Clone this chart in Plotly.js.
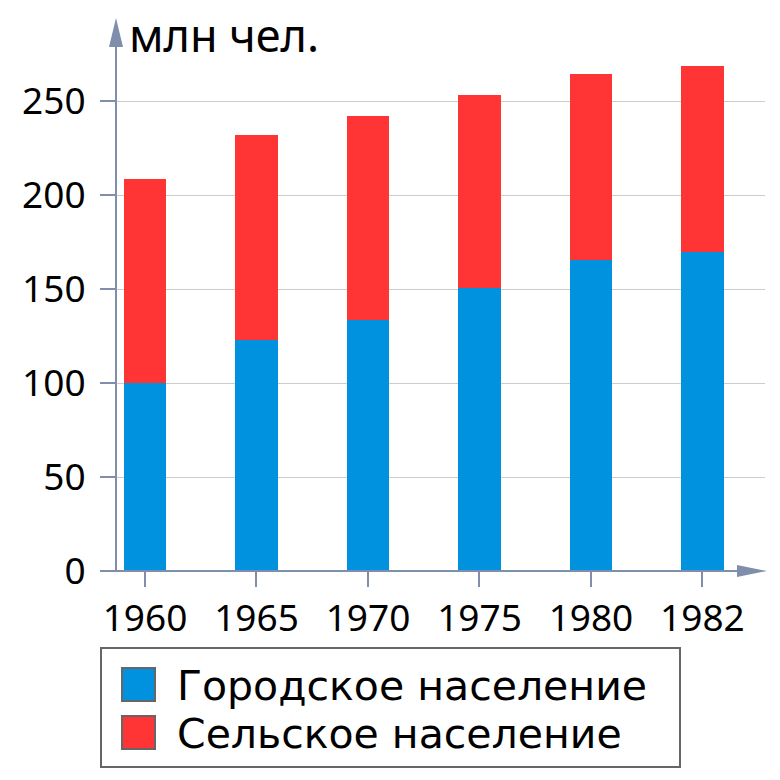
<!DOCTYPE html>
<html><head><meta charset="utf-8">
<script src="https://cdn.plot.ly/plotly-3.0.1.min.js"></script>
<style>body{margin:0;background:#fff}#c{width:780px;height:780px}</style>
</head><body><div id="c"></div>
<script>
const years = ['1960','1965','1970','1975','1980','1982'];
const urban = [100, 123, 133.5, 150.5, 165.4, 169.7];
const rural = [108.7, 109, 108.5, 102.7, 99, 98.9];
const seriesNames = ['Городское население', 'Сельское население'];
const yTicks = [0, 50, 100, 150, 200, 250];
const unitLabel = 'млн чел.';

const W = 780, H = 780;
const L = 117, R = 15, T = 40, B = 209;
const pw = W - L - R, ph = H - T - B;
const px = x => (x - L) / pw;
const py = y => (H - B - y) / ph;
const axisColor = '#7f8fab';
const blue = '#0091df', red = '#ff3535';
const font = 'Noto Sans, sans-serif';
const legFont = 'DejaVu Sans, sans-serif';

const traces = [
  {type:'bar', x: years, y: urban, name: seriesNames[0], marker:{color: blue}, width: 0.38, hoverinfo:'skip'},
  {type:'bar', x: years, y: rural, name: seriesNames[1], marker:{color: red}, width: 0.38, hoverinfo:'skip'}
];

const shapes = [
  {type:'line', xref:'paper', yref:'paper', x0:px(116), x1:px(116), y0:py(572), y1:py(40), line:{color:axisColor, width:2}},
  {type:'path', xref:'paper', yref:'paper', path:`M${px(116)},${py(18)} L${px(109)},${py(47)} L${px(123)},${py(47)} Z`, fillcolor:axisColor, line:{width:0}},
  {type:'line', xref:'paper', yref:'paper', x0:px(100), x1:px(740), y0:py(571), y1:py(571), line:{color:axisColor, width:2}},
  {type:'path', xref:'paper', yref:'paper', path:`M${px(767)},${py(571)} L${px(737)},${py(565)} L${px(737)},${py(577)} Z`, fillcolor:axisColor, line:{width:0}},
  {type:'rect', xref:'paper', yref:'paper', x0:px(101), x1:px(680), y0:py(648), y1:py(767), line:{color:'#666666', width:2}, fillcolor:'rgba(0,0,0,0)'},
  {type:'rect', xref:'paper', yref:'paper', x0:px(122), x1:px(155), y0:py(668), y1:py(701), line:{color:'#666666', width:2}, fillcolor:blue},
  {type:'rect', xref:'paper', yref:'paper', x0:px(122), x1:px(155), y0:py(716), y1:py(749), line:{color:'#666666', width:2}, fillcolor:red}
];

const annotations = [
  {xref:'paper', yref:'paper', x:px(127), y:py(34), xanchor:'left', yanchor:'middle', text:unitLabel, showarrow:false, font:{family:font, size:45, color:'#000'}},
  {xref:'paper', yref:'paper', x:px(176), y:py(686), xanchor:'left', yanchor:'middle', text:seriesNames[0], showarrow:false, borderpad:0, font:{family:legFont, size:41, color:'#000'}},
  {xref:'paper', yref:'paper', x:px(176), y:py(734), xanchor:'left', yanchor:'middle', text:seriesNames[1], showarrow:false, borderpad:0, font:{family:legFont, size:41, color:'#000'}}
];

const layout = {
  width: W, height: H,
  margin: {l: L, r: R, t: T, b: B, pad: 0},
  paper_bgcolor: '#fff', plot_bgcolor: '#fff',
  barmode: 'stack',
  showlegend: false,
  font: {family: font, size: 37, color: '#000'},
  xaxis: {type:'category', range:[-0.251, 5.561], showline:false, showgrid:false, zeroline:false,
          ticks:'outside', ticklen:15, tickwidth:2, tickcolor:axisColor, tickfont:{size:37}, fixedrange:true},
  yaxis: {range:[0, ph/1.88], tickvals: yTicks, ticktext: yTicks.map(String), showline:false, showgrid:true,
          gridcolor:'#cccccc', gridwidth:1, zeroline:false, ticklabelstandoff:7,
          ticks:'outside', ticklen:16, tickwidth:2, tickcolor:axisColor, tickfont:{size:37}, fixedrange:true},
  shapes, annotations
};
Plotly.newPlot('c', traces, layout, {staticPlot:true, displayModeBar:false});
</script></body></html>
